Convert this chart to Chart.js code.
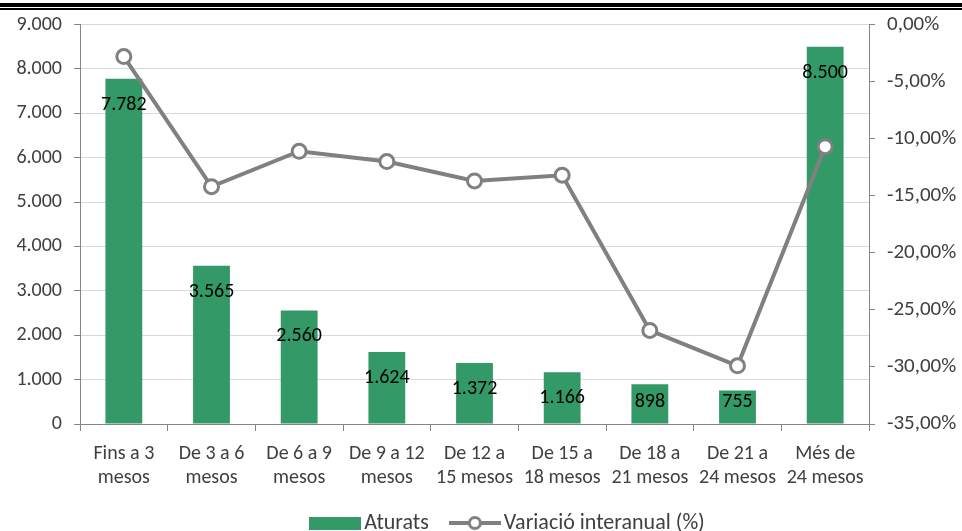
<!DOCTYPE html>
<html>
<head>
<meta charset="utf-8">
<script src="https://cdn.jsdelivr.net/npm/chart.js@4.4.1/dist/chart.umd.min.js"></script>
<style>
  html, body { margin: 0; padding: 0; background: #fff; }
  #wrap { position: relative; width: 962px; height: 531px; overflow: hidden; }
  .rule1 { position: absolute; left: 0; top: 3px; width: 962px; height: 4px; background: #000; }
  .rule2 { position: absolute; left: 0; top: 8px; width: 962px; height: 2px; background: #000; }
  canvas { position: absolute; left: 0; top: 0; }
</style>
</head>
<body>
<div id="wrap">
  <canvas id="chart" width="962" height="531"></canvas>
  <div class="rule1"></div>
  <div class="rule2"></div>
</div>
<script>
// data
const categories = [
  ['Fins a 3', 'mesos'], ['De 3 a 6', 'mesos'], ['De 6 a 9', 'mesos'],
  ['De 9 a 12', 'mesos'], ['De 12 a', '15 mesos'], ['De 15 a', '18 mesos'],
  ['De 18 a', '21 mesos'], ['De 21 a', '24 mesos'], ['Més de', '24 mesos']
];
const aturats = [7782, 3565, 2560, 1624, 1372, 1166, 898, 755, 8500];
const variacio = [-2.8, -14.2, -11.1, -12.0, -13.7, -13.2, -26.8, -29.9, -10.7];

const FONT = "Carlito, Lato, 'Open Sans', sans-serif";
const GREEN = '#339966';
const GREY = '#808080';

const fmtThousands = (v) => String(Math.round(v)).replace(/\B(?=(\d{3})+(?!\d))/g, '.');

// legend swatches (wider than the legend box so they sit close to the text)
function barSwatch() {
  const c = document.createElement('canvas');
  c.width = 52; c.height = 16;
  const g = c.getContext('2d');
  g.fillStyle = GREEN;
  g.fillRect(0, 2, 52, 13);
  return c;
}
function lineSwatch() {
  const c = document.createElement('canvas');
  c.width = 52; c.height = 16;
  const g = c.getContext('2d');
  g.strokeStyle = GREY;
  g.lineWidth = 4;
  g.beginPath(); g.moveTo(0, 8); g.lineTo(52, 8); g.stroke();
  g.beginPath(); g.arc(26, 8, 5.5, 0, Math.PI * 2);
  g.fillStyle = '#fff'; g.fill();
  g.lineWidth = 3; g.stroke();
  return c;
}

// value labels on the bars, inside end
const barLabels = {
  id: 'barLabels',
  afterDatasetsDraw(chart) {
    const { ctx } = chart;
    const meta = chart.getDatasetMeta(0);
    ctx.save();
    ctx.font = '20px ' + FONT;
    ctx.fillStyle = '#000';
    ctx.textAlign = 'center';
    ctx.textBaseline = 'middle';
    meta.data.forEach((bar, i) => {
      let y = bar.y + 26;
      if (y > bar.base - 22) y = bar.base - 22;
      ctx.fillText(fmtThousands(aturats[i]), bar.x, y);
    });
    ctx.restore();
  }
};

new Chart(document.getElementById('chart'), {
  data: {
    labels: categories,
    datasets: [
      {
        type: 'bar',
        label: 'Aturats',
        data: aturats,
        backgroundColor: GREEN,
        yAxisID: 'y',
        order: 2,
        barPercentage: 0.42,
        categoryPercentage: 1
      },
      {
        type: 'line',
        label: 'Variació interanual (%)',
        data: variacio,
        borderColor: GREY,
        borderWidth: 4,
        pointRadius: 7,
        pointBorderWidth: 3,
        pointBackgroundColor: '#fff',
        pointBorderColor: GREY,
        yAxisID: 'y1',
        order: 1,
        tension: 0
      }
    ]
  },
  options: {
    responsive: false,
    animation: false,
    // negative right padding moves the legend centre right; y1 is widened to match
    layout: { padding: { top: 22, bottom: -13, left: 0, right: -60 } },
    scales: {
      x: {
        grid: { drawOnChartArea: false, offset: true, tickLength: 7, tickColor: '#868686' },
        border: { color: '#868686' },
        ticks: { color: '#404040', font: { family: FONT, size: 20, lineHeight: 1.2 }, maxRotation: 0, padding: 11 },
        afterFit: (s) => { s.height = 60; }
      },
      y: {
        position: 'left',
        min: 0, max: 9000,
        ticks: { stepSize: 1000, color: '#404040', font: { family: FONT, size: 20 }, padding: 12,
                 callback: (v) => fmtThousands(v) },
        grid: { color: '#d9d9d9', tickLength: 6, tickColor: '#868686' },
        border: { color: '#868686' },
        afterFit: (s) => { s.width = 80; }
      },
      y1: {
        position: 'right',
        min: -35, max: 0,
        ticks: { stepSize: 5, color: '#404040', font: { family: FONT, size: 21 }, padding: 12,
                 callback: (v) => v.toFixed(2).replace('.', ',') + '%' },
        grid: { drawOnChartArea: false, tickLength: 6, tickColor: '#868686' },
        border: { color: '#868686' },
        afterFit: (s) => { s.width = 153; }
      }
    },
    plugins: {
      tooltip: { enabled: false },
      legend: {
        position: 'bottom',
        labels: {
          color: '#404040',
          font: { family: FONT, size: 22 },
          usePointStyle: true,
          pointStyleWidth: 36,
          boxHeight: 16,
          padding: 28,
          generateLabels: () => [
            { text: 'Aturats', pointStyle: barSwatch(), fontColor: '#404040', datasetIndex: 0, hidden: false, lineWidth: 0 },
            { text: 'Variació interanual (%)', pointStyle: lineSwatch(), fontColor: '#404040', datasetIndex: 1, hidden: false, lineWidth: 0 }
          ]
        }
      }
    }
  },
  plugins: [barLabels]
});
</script>
</body>
</html>
